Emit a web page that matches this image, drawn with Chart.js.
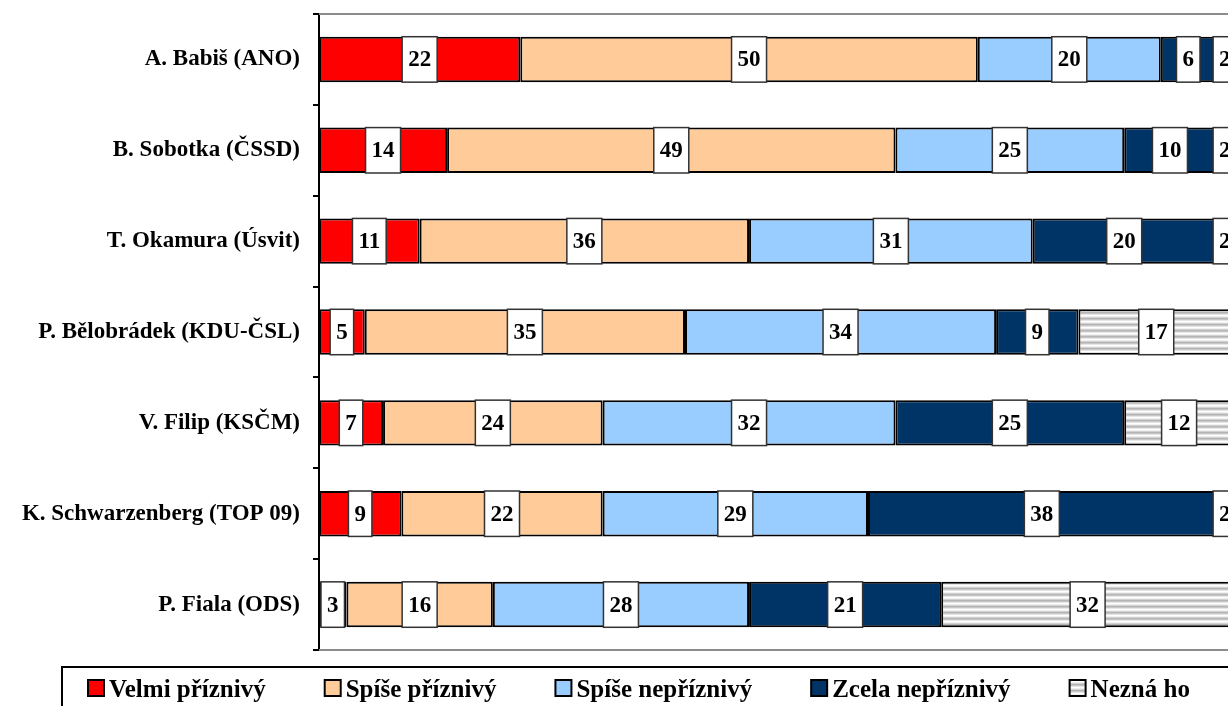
<!DOCTYPE html>
<html><head><meta charset="utf-8">
<script src="https://cdn.jsdelivr.net/npm/chart.js@4.4.1/dist/chart.umd.min.js"></script>
<style>
html,body{margin:0;padding:0;overflow:hidden;background:#fff}
#wrap{position:relative;width:1284px;height:706px}
</style>
</head><body>
<div id="wrap"><canvas id="c"></canvas></div>
<script>
const categories = ['A. Babiš (ANO)','B. Sobotka (ČSSD)','T. Okamura (Úsvit)','P. Bělobrádek (KDU-ČSL)','V. Filip (KSČM)','K. Schwarzenberg (TOP 09)','P. Fiala (ODS)'];
const seriesNames = ['Velmi příznivý','Spíše příznivý','Spíše nepříznivý','Zcela nepříznivý','Nezná ho'];
const velmiPriznivy   = [22,14,11, 5, 7, 9, 3];
const spisePriznivy   = [50,49,36,35,24,22,16];
const spiseNepriznivy = [20,25,31,34,32,29,28];
const zcelaNepriznivy = [ 6,10,20, 9,25,38,21];
const neznaHo         = [ 2, 2, 2,17,12, 2,32];

const FONT = "'Liberation Serif','Times New Roman',serif";

function stripePattern(){
  const p = document.createElement('canvas');
  p.width = 8; p.height = 6;
  const g = p.getContext('2d');
  const rows = ['#b4b4b4','#c6c6c6','#e6e6e6','#ffffff','#f0f0f0','#d2d2d2'];
  rows.forEach((c,i)=>{ g.fillStyle=c; g.fillRect(0,i,8,1); });
  return g.createPattern(p,'repeat');
}
const stripes = stripePattern();

const colors = ['#ff0000','#ffcc99','#99ccff','#003366',stripes];
const seriesData = [velmiPriznivy,spisePriznivy,spiseNepriznivy,zcelaNepriznivy,neznaHo];

const valueBoxes = {
  id:'valueBoxes',
  afterDatasetsDraw(chart){
    const ctx = chart.ctx;
    ctx.save();
    ctx.font = "bold 23px " + FONT;
    ctx.textAlign = 'center';
    ctx.textBaseline = 'middle';
    chart.data.datasets.forEach((ds,i)=>{
      const meta = chart.getDatasetMeta(i);
      meta.data.forEach((bar,j)=>{
        const p = bar.getProps(['x','y','base','height'],true);
        const txt = String(ds.data[j]);
        const cx = (p.x + p.base)/2;
        const w = ctx.measureText(txt).width + 12;
        const h = p.height;
        ctx.fillStyle = '#fff';
        ctx.fillRect(cx - w/2, p.y - h/2, w, h);
        ctx.strokeStyle = '#333';
        ctx.lineWidth = 1.5;
        ctx.strokeRect(cx - w/2, p.y - h/2, w, h);
        ctx.fillStyle = '#000';
        ctx.fillText(txt, cx, p.y + 1);
      });
    });
    ctx.restore();
  }
};

const frameAndLegend = {
  id:'frameAndLegend',
  beforeDatasetsDraw(chart){
    const {ctx, chartArea:a} = chart;
    ctx.save();
    ctx.strokeStyle = '#8c8c8c';
    ctx.lineWidth = 2;
    ctx.beginPath();
    ctx.moveTo(a.left, a.top); ctx.lineTo(a.right + 10, a.top);
    ctx.moveTo(a.left, a.bottom); ctx.lineTo(a.right + 10, a.bottom);
    ctx.stroke();
    ctx.restore();
  },
  afterDraw(chart){
    const {ctx, chartArea:a} = chart;
    ctx.save();
    const top = a.bottom + 17;
    ctx.strokeStyle = '#000';
    ctx.lineWidth = 2;
    ctx.strokeRect(62, top, 1300, 80);
    ctx.font = "bold 25px " + FONT;
    ctx.textBaseline = 'alphabetic';
    ctx.textAlign = 'left';
    let x = 88;
    chart.data.datasets.forEach(ds=>{
      ctx.fillStyle = ds.backgroundColor;
      ctx.fillRect(x, top + 13, 16, 16);
      ctx.strokeStyle = '#000';
      ctx.lineWidth = 2;
      ctx.strokeRect(x, top + 13, 16, 16);
      ctx.fillStyle = '#000';
      ctx.fillText(ds.label, x + 21, top + 30);
      x += 21 + ctx.measureText(ds.label).width + 59;
    });
    ctx.restore();
  }
};

new Chart(document.getElementById('c'), {
  type:'bar',
  data:{
    labels: categories,
    datasets: seriesNames.map((n,i)=>({
      label:n,
      data:seriesData[i],
      backgroundColor:colors[i],
      borderColor:'#000',
      borderWidth:2,
      borderSkipped:false,
      barPercentage:0.5,
      categoryPercentage:1
    }))
  },
  options:{
    indexAxis:'y',
    responsive:true,
    maintainAspectRatio:false,
    animation:false,
    layout:{padding:{left:0,right:50,top:14,bottom:56}},
    plugins:{legend:{display:false},tooltip:{enabled:false}},
    scales:{
      x:{stacked:true,min:0,max:100,display:false},
      y:{
        stacked:true,
        grid:{offset:true,drawOnChartArea:false,drawTicks:true,tickLength:6,color:'#000',lineWidth:2},
        border:{display:true,color:'#000',width:2},
        ticks:{color:'#000',padding:13,font:{family:FONT,weight:'bold',size:23}},
        afterFit(s){ s.width = 319; s.paddingTop = 0; s.paddingBottom = 0; }
      }
    }
  },
  plugins:[frameAndLegend,valueBoxes]
});
</script>
</body></html>
